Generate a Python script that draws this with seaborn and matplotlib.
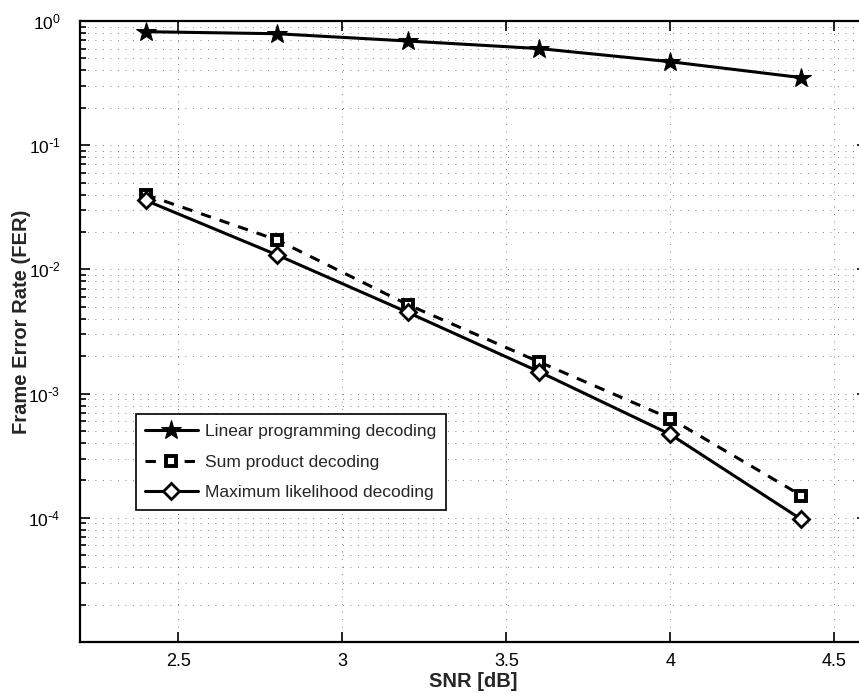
import numpy as np
import pandas as pd
import seaborn as sns
import matplotlib
matplotlib.use("Agg")
import matplotlib.pyplot as plt
from matplotlib.ticker import LogLocator, FixedLocator, NullFormatter

snr = [2.4, 2.8, 3.2, 3.6, 4.0, 4.4]
fer_lp = [0.82, 0.79, 0.69, 0.60, 0.47, 0.35]
fer_sp = [0.040, 0.0173, 0.0052, 0.0018, 0.00063, 0.000151]
fer_ml = [0.036, 0.0131, 0.0045, 0.0015, 0.00047, 0.000097]
labels = ["Linear programming decoding", "Sum product decoding", "Maximum likelihood decoding"]
xticks = [2.5, 3, 3.5, 4, 4.5]
xticklabels = ["2.5", "3", "3.5", "4", "4.5"]
yticks = [1e-4, 1e-3, 1e-2, 1e-1, 1e0]
yticklabels = [r"$10^{\text{-}4}$", r"$10^{\text{-}3}$", r"$10^{\text{-}2}$",
               r"$10^{\text{-}1}$", r"$10^{0}$"]

sns.set_style("ticks")
plt.rcParams["font.family"] = ["Liberation Sans", "DejaVu Sans"]
plt.rcParams["mathtext.default"] = "regular"

fig = plt.figure(figsize=(8.59, 6.94), dpi=100)
ax = fig.add_axes([80 / 859, 1 - 642 / 694, 787 / 859, 621 / 694])

lw = 2.2
sns.lineplot(x=snr, y=fer_lp, ax=ax, color="black", linewidth=lw, marker="*",
             markersize=15, markerfacecolor="black", markeredgecolor="black",
             label=labels[0], sort=False, estimator=None)
sns.lineplot(x=snr, y=fer_sp, ax=ax, color="black", linewidth=lw, marker="s",
             markersize=7.5, markerfacecolor="white", markeredgecolor="black",
             markeredgewidth=2.8, label=labels[1], sort=False, estimator=None)
sns.lineplot(x=snr, y=fer_ml, ax=ax, color="black", linewidth=lw, marker="D",
             markersize=8.5, markerfacecolor="white", markeredgecolor="black",
             markeredgewidth=2.0, label=labels[2], sort=False, estimator=None)
ax.lines[1].set_dashes((3.4, 3.0))

ax.set_yscale("log")
ax.set_xlim(2.2, 4.6)
ax.set_ylim(1e-5, 1)
ax.xaxis.set_major_locator(FixedLocator(xticks))
ax.set_xticklabels(xticklabels)
ax.yaxis.set_major_locator(FixedLocator(yticks))
ax.yaxis.set_minor_locator(LogLocator(base=10, subs=np.arange(2, 10), numticks=20))
ax.yaxis.set_minor_formatter(NullFormatter())
ax.set_yticklabels(yticklabels)

ax.tick_params(which="both", direction="in", top=True, right=True,
               colors="black", width=1.2)
ax.tick_params(axis="x", labelsize=13, pad=8)
ax.tick_params(axis="y", labelsize=12.5, pad=14)
ax.tick_params(which="major", length=7)
ax.tick_params(which="minor", length=4)
for s in ax.spines.values():
    s.set_linewidth(1.6)
    s.set_color("black")

gs = dict(color="0.35", linestyle=(0, (1, 8)), linewidth=0.6)
ax.grid(True, which="major", axis="both", **gs)
ax.grid(True, which="minor", axis="y", **gs)

ax.set_xlabel("SNR [dB]", fontsize=14.5, fontweight="bold")
ax.set_ylabel("Frame Error Rate (FER)", fontsize=14.5, fontweight="bold")
ax.xaxis.set_label_coords(0.5, -0.048)
ax.yaxis.set_label_coords(-0.062, 0.515)

leg = ax.legend(loc="lower left", bbox_to_anchor=(0.071, 0.2126), fontsize=12.5,
                frameon=True, fancybox=False, edgecolor="black", framealpha=1,
                handlelength=3.0, labelspacing=0.9, borderpad=0.55, handletextpad=0.45,
                borderaxespad=0)
leg.get_frame().set_linewidth(1.2)

fig.savefig("out.png", dpi=100)
